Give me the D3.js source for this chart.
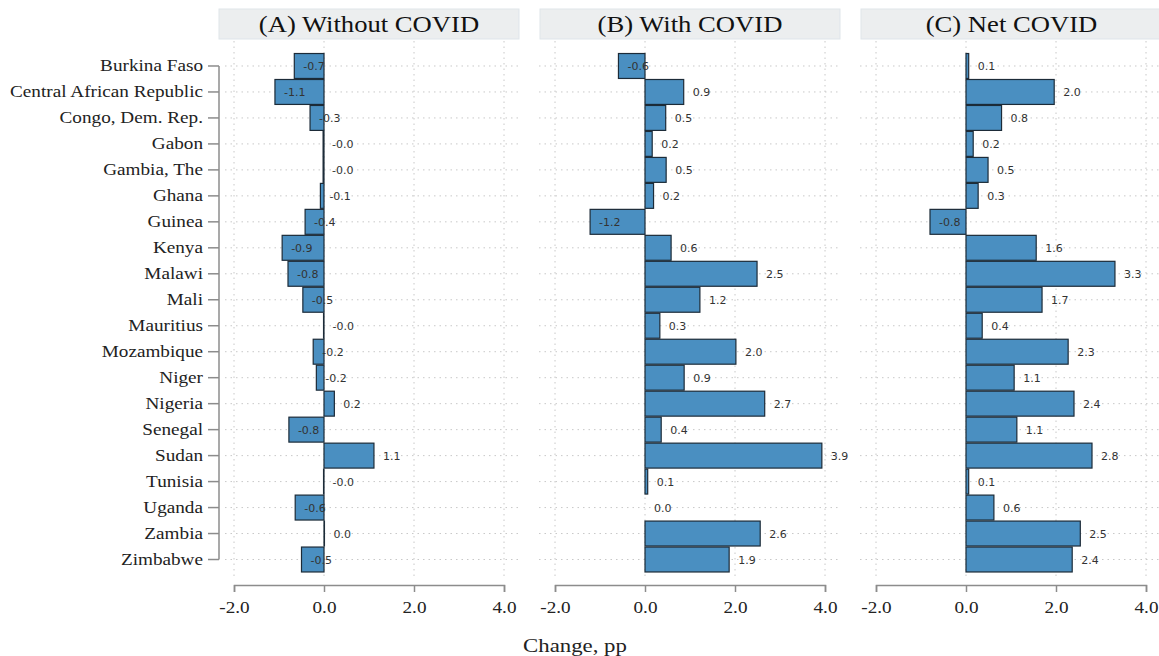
<!DOCTYPE html>
<html><head><meta charset="utf-8">
<script src="https://cdn.jsdelivr.net/npm/d3@7"></script>
<style>body{margin:0;background:#fff}svg{display:block}</style>
</head><body><svg id="c" width="1159" height="656"></svg>
<script>
const countries = ["Burkina Faso","Central African Republic","Congo, Dem. Rep.","Gabon","Gambia, The","Ghana","Guinea","Kenya","Malawi","Mali","Mauritius","Mozambique","Niger","Nigeria","Senegal","Sudan","Tunisia","Uganda","Zambia","Zimbabwe"];
const withoutCovid = [-0.66,-1.09,-0.31,-0.02,-0.02,-0.08,-0.42,-0.93,-0.80,-0.47,-0.01,-0.24,-0.17,0.23,-0.78,1.11,-0.01,-0.64,0.01,-0.50];
const withCovid = [-0.59,0.86,0.46,0.16,0.47,0.19,-1.22,0.58,2.49,1.22,0.33,2.02,0.87,2.66,0.36,3.93,0.06,0.0,2.56,1.87];
const netCovid = [0.06,1.96,0.79,0.16,0.49,0.27,-0.80,1.56,3.31,1.69,0.36,2.27,1.07,2.40,1.13,2.80,0.06,0.62,2.54,2.36];
const panelTitles = ["(A) Without COVID","(B) With COVID","(C) Net COVID"];
const xTicks = [-2,0,2,4];
const xTitle = "Change, pp";

const svg = d3.select("#c");
const serif = "'Liberation Serif','Times New Roman',serif";
const SX = 1.13;

const y = d3.scaleBand().domain(countries).range([53, 572.5]).paddingInner(0.04).paddingOuter(0.02);

const panels = [
  {title: panelTitles[0], data: withoutCovid, range:[234,504], box:[225,519], head:[219,519]},
  {title: panelTitles[1], data: withCovid, range:[555,825], box:[539,840], head:[540,840]},
  {title: panelTitles[2], data: netCovid, range:[876,1146], box:[860,1159], head:[861,1162]}
];

panels.forEach(p => {
  const x = d3.scaleLinear().domain([-2,4]).range(p.range);
  const g = svg.append("g");
  // header
  g.append("rect").attr("x", p.head[0]).attr("y", 9).attr("width", p.head[1]-p.head[0]).attr("height", 30)
    .attr("fill", "#eceeef").attr("stroke", "#dfe5ea").attr("stroke-width", 1);
  g.append("text").attr("transform", `translate(${(p.head[0]+p.head[1])/2},32) scale(1.11,1)`).attr("text-anchor","middle")
    .attr("font-family", serif).attr("font-size", 24).attr("fill", "#111").text(p.title);
  // grid
  g.selectAll(".vg").data(xTicks).join("line")
    .attr("x1", d=>x(d)).attr("x2", d=>x(d)).attr("y1", 41).attr("y2", 580)
    .attr("stroke", "#c8c8c8").attr("stroke-width", 1).attr("stroke-dasharray", "1.5,4");
  g.selectAll(".hg").data(countries).join("line")
    .attr("x1", p.box[0]).attr("x2", p.box[1])
    .attr("y1", d=>y(d)+y.bandwidth()/2).attr("y2", d=>y(d)+y.bandwidth()/2)
    .attr("stroke", "#c8c8c8").attr("stroke-width", 1).attr("stroke-dasharray", "1.5,4");
  // bars
  g.selectAll(".bar").data(p.data).join("rect")
    .attr("x", d => x(Math.min(0,d))).attr("width", d => Math.abs(x(d)-x(0)))
    .attr("y", (d,i) => y(countries[i])).attr("height", y.bandwidth())
    .attr("fill", "#4a8fc1").attr("stroke", "#1c2b38").attr("stroke-width", 1.2);
  // labels
  g.selectAll(".lab").data(p.data).join("text")
    .attr("x", d => x(d) + 9).attr("y", (d,i) => y(countries[i]) + y.bandwidth()/2 + 4)
    .attr("font-family", "'DejaVu Sans',sans-serif").attr("font-size", 11).attr("fill", "#333")
    .text(d => d.toFixed(1));
  // x axis
  const ax = g.append("g").attr("transform", "translate(0,585)")
    .call(d3.axisBottom(x).tickValues(xTicks).tickFormat(d => d.toFixed(1)).tickSizeOuter(0).tickSize(7).tickPadding(9));
  ax.select(".domain").attr("stroke", "#8c8c8c").attr("stroke-width", 1.5);
  ax.selectAll(".tick line").attr("stroke", "#8c8c8c").attr("stroke-width", 1.5);
  ax.selectAll(".tick text").attr("font-family", serif).attr("font-size", 17).attr("fill", "#222")
    .attr("transform", `scale(${SX},1)`);
});

// y axis
const yAx = svg.append("g").attr("transform", "translate(219,0)")
  .call(d3.axisLeft(y).tickSize(11).tickPadding(5).tickSizeOuter(0));
yAx.select(".domain").remove();
yAx.append("line").attr("x1",0).attr("x2",0)
  .attr("y1", y(countries[0])+y.bandwidth()/2).attr("y2", y(countries[countries.length-1])+y.bandwidth()/2)
  .attr("stroke", "#8c8c8c").attr("stroke-width", 1.5);
yAx.selectAll(".tick line").attr("stroke", "#8c8c8c").attr("stroke-width", 1.5);
yAx.selectAll(".tick text").attr("font-family", serif).attr("font-size", 17).attr("fill", "#222")
  .attr("x", 0).attr("transform", `translate(-16,0) scale(${SX},1)`);

svg.append("text").attr("transform", "translate(575,652) scale(1.2,1)").attr("text-anchor","middle")
  .attr("font-family", serif).attr("font-size", 19).attr("fill", "#222").text(xTitle);
</script></body></html>
